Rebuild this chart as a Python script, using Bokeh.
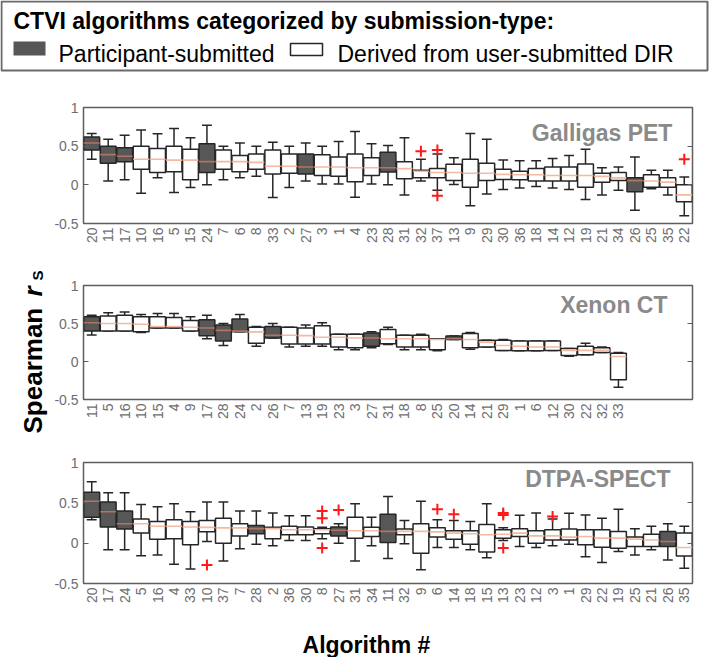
import math
import numpy as np
from bokeh.plotting import figure
from bokeh.models import Range1d, FixedTicker, LinearAxis, Label, ColumnDataSource
from bokeh.layouts import column, row
from bokeh.core.properties import value
from bokeh.embed import file_html
from bokeh.resources import INLINE

FONT = "Liberation Sans"

# ---------------- data ----------------
legend_title = "CTVI algorithms categorized by submission-type:"
legend_labels = ["Participant-submitted", "Derived from user-submitted DIR"]
participant_submitted = [11, 17, 20, 24, 26, 27, 28]

# Galligas PET
pet_cats = [20, 11, 17, 10, 16, 5, 15, 24, 7, 6, 8, 33, 2, 27, 3, 1, 4, 23, 28, 31,
            32, 37, 13, 9, 29, 30, 36, 18, 14, 12, 19, 21, 34, 26, 25, 35, 22]
pet_q3 = [0.62, 0.50, 0.48, 0.50, 0.47, 0.50, 0.46, 0.53, 0.45, 0.38, 0.40, 0.45, 0.40, 0.40,
          0.39, 0.36, 0.40, 0.35, 0.42, 0.30, 0.19, 0.21, 0.265, 0.33, 0.28, 0.20, 0.175,
          0.21, 0.23, 0.23, 0.27, 0.15, 0.16, 0.09, 0.13, 0.09, 0.0]
pet_q1 = [0.45, 0.28, 0.30, 0.20, 0.16, 0.17, 0.065, 0.16, 0.20, 0.17, 0.20, 0.14, 0.15, 0.14,
          0.12, 0.11, 0.04, 0.12, 0.165, 0.08, 0.09, 0.09, 0.055, -0.03, 0.055, 0.07, 0.065,
          0.05, 0.05, 0.05, -0.03, 0.035, 0.055, -0.09, -0.03, -0.03, -0.22]
pet_med = [0.54, 0.39, 0.37, 0.33, 0.33, 0.32, 0.32, 0.30, 0.30, 0.30, 0.29, 0.24, 0.24, 0.23,
           0.23, 0.23, 0.22, 0.22, 0.22, 0.21, 0.175, 0.16, 0.16, 0.15, 0.15, 0.135, 0.13,
           0.13, 0.12, 0.12, 0.12, 0.11, 0.09, 0.055, 0.05, 0.035, -0.13]
pet_lo = [0.33, 0.05, 0.065, -0.11, 0.09, -0.10, -0.035, 0.0, 0.065, 0.09, 0.11, -0.165,
          -0.035, 0.05, 0.01, 0.01, -0.16, 0.01, 0.0, -0.13, 0.05, -0.07, 0.005, -0.27,
          -0.12, -0.06, -0.04, -0.02, -0.04, -0.06, -0.19, -0.13, -0.07, -0.33, -0.05,
          -0.13, -0.40]
pet_hi = [0.665, 0.59, 0.64, 0.71, 0.66, 0.73, 0.61, 0.77, 0.50, 0.54, 0.50, 0.55, 0.50,
          0.54, 0.50, 0.56, 0.69, 0.53, 0.51, 0.61, 0.33, 0.40, 0.35, 0.665, 0.59, 0.32,
          0.31, 0.31, 0.34, 0.38, 0.46, 0.22, 0.23, 0.36, 0.19, 0.19, 0.10]
pet_out_cat = [32, 37, 37, 22]
pet_out_val = [0.435, 0.45, -0.14, 0.33]

# Xenon CT
xe_cats = [11, 5, 16, 10, 15, 4, 9, 17, 28, 24, 2, 26, 7, 13, 19, 23, 3, 27, 31, 18, 8,
           25, 20, 14, 21, 29, 1, 6, 12, 30, 22, 32, 33]
xe_q3 = [0.59, 0.60, 0.61, 0.59, 0.59, 0.58, 0.54, 0.55, 0.48, 0.56, 0.45, 0.46, 0.45,
         0.44, 0.47, 0.36, 0.36, 0.375, 0.42, 0.345, 0.345, 0.30, 0.335, 0.37, 0.28, 0.28,
         0.27, 0.27, 0.27, 0.17, 0.20, 0.18, 0.11]
xe_q1 = [0.40, 0.40, 0.40, 0.39, 0.44, 0.44, 0.40, 0.34, 0.27, 0.39, 0.24, 0.31, 0.23,
         0.23, 0.23, 0.19, 0.18, 0.20, 0.235, 0.19, 0.19, 0.155, 0.29, 0.18, 0.19, 0.146,
         0.14, 0.14, 0.146, 0.08, 0.09, 0.12, -0.24]
xe_med = [0.51, 0.50, 0.50, 0.49, 0.46, 0.46, 0.45, 0.44, 0.41, 0.40, 0.39, 0.345, 0.345,
          0.34, 0.32, 0.32, 0.31, 0.31, 0.30, 0.30, 0.30, 0.29, 0.30, 0.29, 0.255, 0.21,
          0.20, 0.19, 0.19, 0.146, 0.146, 0.146, 0.066]
xe_lo = [0.35, 0.40, 0.40, 0.38, 0.44, 0.44, 0.40, 0.30, 0.21, 0.39, 0.20, 0.31, 0.19,
         0.20, 0.20, 0.155, 0.155, 0.18, 0.225, 0.155, 0.155, 0.14, 0.29, 0.16, 0.19,
         0.146, 0.14, 0.14, 0.146, 0.07, 0.09, 0.12, -0.34]
xe_hi = [0.61, 0.64, 0.65, 0.62, 0.63, 0.63, 0.59, 0.61, 0.50, 0.62, 0.46, 0.50, 0.45,
         0.48, 0.51, 0.36, 0.36, 0.39, 0.45, 0.345, 0.36, 0.30, 0.335, 0.38, 0.28, 0.29,
         0.27, 0.27, 0.27, 0.17, 0.24, 0.19, 0.12]
xe_out_cat = []
xe_out_val = []

# DTPA-SPECT
sp_cats = [20, 17, 24, 5, 16, 4, 33, 10, 37, 7, 28, 2, 36, 30, 8, 27, 31, 34, 11, 32, 9,
           6, 14, 18, 15, 13, 23, 12, 3, 1, 29, 22, 19, 25, 21, 26, 35]
sp_q3 = [0.63, 0.51, 0.40, 0.30, 0.27, 0.29, 0.27, 0.28, 0.31, 0.24, 0.22, 0.196, 0.21,
         0.20, 0.18, 0.20, 0.32, 0.196, 0.36, 0.175, 0.24, 0.19, 0.154, 0.154, 0.23,
         0.167, 0.18, 0.154, 0.167, 0.175, 0.167, 0.167, 0.146, 0.075, 0.11, 0.146, 0.125]
sp_q1 = [0.32, 0.20, 0.175, 0.125, 0.05, 0.054, -0.02, 0.14, 0.0, 0.09, 0.117, 0.054,
         0.104, 0.104, 0.117, 0.09, 0.0625, 0.083, 0.008, 0.104, -0.125, 0.075, 0.05,
         -0.0125, -0.11, 0.0625, 0.083, 0.0, 0.04, 0.04, -0.02, -0.05, -0.0625, -0.04,
         -0.04, -0.04, -0.158]
sp_med = [0.52, 0.39, 0.24, 0.24, 0.21, 0.21, 0.20, 0.196, 0.19, 0.19, 0.18, 0.18, 0.167,
          0.167, 0.167, 0.16, 0.154, 0.154, 0.146, 0.146, 0.146, 0.14, 0.125, 0.117,
          0.104, 0.11, 0.125, 0.09, 0.09, 0.075, 0.083, 0.0625, 0.0625, 0.05, 0.04, 0.02,
          -0.054]
sp_lo = [0.29, -0.083, -0.083, -0.155, -0.146, -0.26, -0.32, 0.02, -0.22, -0.07, -0.0125,
         -0.033, 0.033, 0.033, 0.054, 0.0, -0.22, -0.033, -0.19, -0.008, -0.33, -0.054,
         -0.054, -0.083, -0.18, 0.033, -0.04, -0.054, -0.033, -0.0125, -0.167, -0.24,
         -0.104, -0.146, -0.083, -0.21, -0.31]
sp_hi = [0.76, 0.625, 0.625, 0.48, 0.45, 0.49, 0.39, 0.51, 0.51, 0.40, 0.40, 0.375, 0.34,
         0.34, 0.196, 0.24, 0.49, 0.32, 0.58, 0.28, 0.52, 0.29, 0.28, 0.27, 0.49, 0.19,
         0.345, 0.375, 0.30, 0.37, 0.35, 0.31, 0.42, 0.18, 0.21, 0.24, 0.21]
sp_out_cat = [10, 8, 8, 8, 27, 6, 14, 13, 13, 13, 3]
sp_out_val = [-0.27, 0.40, 0.31, -0.06, 0.41, 0.42, 0.36, 0.375, 0.35, -0.06, 0.33]

y_ticks = [-0.5, 0, 0.5, 1]
y_tick_labels = ["-0.5", "0", "0.5", "1"]
n_slots = 37

# ---------------- styling ----------------
DARK_FILL = "#575757"
BOX_LINE = "#262626"
MED_LIGHT = "#f5b8a0"
MED_DARK = "#b07460"
TICK_GRAY = "#6e6e6e"
FRAME = "#5e5e5e"
TOTAL_W = 709
YLAB_W = 50
PANEL_W = TOTAL_W - YLAB_W
HDR_H = 76
FTR_H = 34


def make_panel(cats, q1, med, q3, lo, hi, out_cat, out_val, name, name_x, name_y,
               height, top, bottom):
    p = figure(width=PANEL_W, height=height, x_range=Range1d(0.5, n_slots + 0.5),
               y_range=Range1d(-0.5, 1.0), toolbar_location=None, output_backend="svg",
               title=None, min_border_left=83 - YLAB_W, min_border_right=17,
               min_border_top=top, min_border_bottom=bottom)
    p.grid.visible = False
    p.outline_line_color = FRAME
    p.outline_line_width = 1.5
    p.background_fill_color = "white"

    x = np.arange(1, len(cats) + 1, dtype=float)
    dark = [c in participant_submitted for c in cats]
    src = ColumnDataSource(dict(
        x=x, left=x - 0.48, right=x + 0.48, cl=x - 0.3, cr=x + 0.3,
        q1=q1, q3=q3, med=med, lo=lo, hi=hi,
        fill=[DARK_FILL if d else "white" for d in dark],
        mcol=[MED_DARK if d else MED_LIGHT for d in dark],
    ))
    kw = dict(source=src, line_color=BOX_LINE, line_width=1.5)
    p.segment(x0="x", x1="x", y0="q3", y1="hi", **kw)
    p.segment(x0="x", x1="x", y0="q1", y1="lo", **kw)
    p.segment(x0="cl", x1="cr", y0="hi", y1="hi", **kw)
    p.segment(x0="cl", x1="cr", y0="lo", y1="lo", **kw)
    p.quad(left="left", right="right", top="q3", bottom="q1", fill_color="fill", **kw)
    p.segment(x0="left", x1="right", y0="med", y1="med", source=src,
              line_color="mcol", line_width=1.6)

    if out_cat:
        ox = [cats.index(c) + 1 for c in out_cat]
        p.scatter(ox, out_val, marker="cross", size=11, line_color="#ff1a1a",
                  line_width=2)

    xa = p.xaxis[0]
    xa.ticker = FixedTicker(ticks=list(range(1, len(cats) + 1)))
    xa.major_label_overrides = {i + 1: str(c) for i, c in enumerate(cats)}
    xa.major_label_orientation = math.pi / 2
    xa.major_label_text_font = FONT
    xa.major_label_text_font_size = "14px"
    xa.major_label_text_color = TICK_GRAY
    xa.major_label_standoff = 4
    xa.major_tick_in = 0
    xa.major_tick_out = 0
    xa.minor_tick_line_color = None
    xa.axis_line_color = None

    ya = p.yaxis[0]
    ya.ticker = FixedTicker(ticks=y_ticks)
    ya.major_label_overrides = dict(zip(y_ticks, y_tick_labels))
    ya.major_label_text_font = FONT
    ya.major_label_text_font_size = "14px"
    ya.major_label_text_color = TICK_GRAY
    ya.major_label_standoff = 5
    ya.major_tick_in = 5
    ya.major_tick_out = 0
    ya.major_tick_line_color = FRAME
    ya.major_tick_line_width = 1.2
    ya.minor_tick_line_color = None
    ya.axis_line_color = None

    ra = LinearAxis(ticker=FixedTicker(ticks=y_ticks),
                    major_label_overrides={t: "" for t in y_ticks},
                    major_label_text_font_size="0px", major_label_standoff=0,
                    major_tick_in=5, major_tick_out=0, major_tick_line_color=FRAME,
                    major_tick_line_width=1.2, minor_tick_line_color=None,
                    axis_line_color=None)
    p.add_layout(ra, "right")

    p.add_layout(Label(x=name_x, y=name_y, x_units="data", y_units="data", text=name,
                       text_align="right", text_baseline="middle", text_font=FONT,
                       text_font_size="23px", text_font_style="bold",
                       text_color="#8a8a8a"))
    return p


p1 = make_panel(pet_cats, pet_q1, pet_med, pet_q3, pet_lo, pet_hi, pet_out_cat,
                pet_out_val, "Galligas PET", 36.28, 0.67, 183, 31, 36)
p2 = make_panel(xe_cats, xe_q1, xe_med, xe_q3, xe_lo, xe_hi, xe_out_cat, xe_out_val,
                "Xenon CT", 35.98, 0.743, 176, 26, 36)
p3 = make_panel(sp_cats, sp_q1, sp_med, sp_q3, sp_lo, sp_hi, sp_out_cat, sp_out_val,
                "DTPA-SPECT", 36.16, 0.80, 188, 27, 40)

# ---------------- header (legend) ----------------
hdr = figure(width=TOTAL_W, height=HDR_H, x_range=Range1d(0, TOTAL_W),
             y_range=Range1d(HDR_H, 0), toolbar_location=None, output_backend="svg",
             title=None, x_axis_type=None, y_axis_type=None, min_border=0)
hdr.grid.visible = False
hdr.outline_line_color = None
hdr.quad(left=[1], right=[707], top=[1], bottom=[70], fill_color=None,
         line_color="#6a6a6a", line_width=2)
hdr.text(x=[13], y=[20], text=[legend_title], text_font=value(FONT),
         text_font_style="bold", text_font_size="23px", text_baseline="middle",
         text_align="left", text_color="black")
hdr.quad(left=[13], right=[45], top=[41], bottom=[55], fill_color=DARK_FILL,
         line_color=None)
hdr.quad(left=[290], right=[322], top=[43], bottom=[55], fill_color="white",
         line_color=BOX_LINE, line_width=1.5)
hdr.text(x=[58, 337], y=[53, 53], text=legend_labels, text_font=value(FONT),
         text_font_size="23px", text_baseline="middle", text_align="left",
         text_color="black")

# ---------------- y label ----------------
YH = 183 + 176 + 188 + FTR_H
ylab = figure(width=YLAB_W, height=YH, x_range=Range1d(0, YLAB_W),
              y_range=Range1d(YH, 0), toolbar_location=None, output_backend="svg",
              title=None, x_axis_type=None, y_axis_type=None, min_border=0)
ylab.grid.visible = False
ylab.outline_line_color = None
ylab.text(x=[32], y=[357], text=["Spearman"], angle=math.pi / 2, text_font=value(FONT),
          text_font_style="bold", text_font_size="26px", text_baseline="middle",
          text_align="left", text_color="black")
ylab.text(x=[32], y=[220], text=["r"], angle=math.pi / 2, text_font=value(FONT),
          text_font_style="bold italic", text_font_size="26px",
          text_baseline="middle", text_align="left", text_color="black")
ylab.text(x=[37], y=[204], text=["S"], angle=math.pi / 2, text_font=value(FONT),
          text_font_style="bold", text_font_size="15px", text_baseline="middle",
          text_align="left", text_color="black")

# ---------------- x label ----------------
ftr = figure(width=PANEL_W, height=FTR_H, x_range=Range1d(0, PANEL_W),
             y_range=Range1d(FTR_H, 0), toolbar_location=None, output_backend="svg",
             title=None, x_axis_type=None, y_axis_type=None, min_border=0)
ftr.grid.visible = False
ftr.outline_line_color = None
ftr.text(x=[287 - YLAB_W], y=[21], text=["Algorithm #"], text_font=value(FONT),
         text_font_style="bold", text_font_size="23px", text_baseline="middle",
         text_align="left", text_color="black")

layout = column(hdr, row(ylab, column(p1, p2, p3, ftr)))
open("out.html", "w").write(file_html(layout, INLINE))
